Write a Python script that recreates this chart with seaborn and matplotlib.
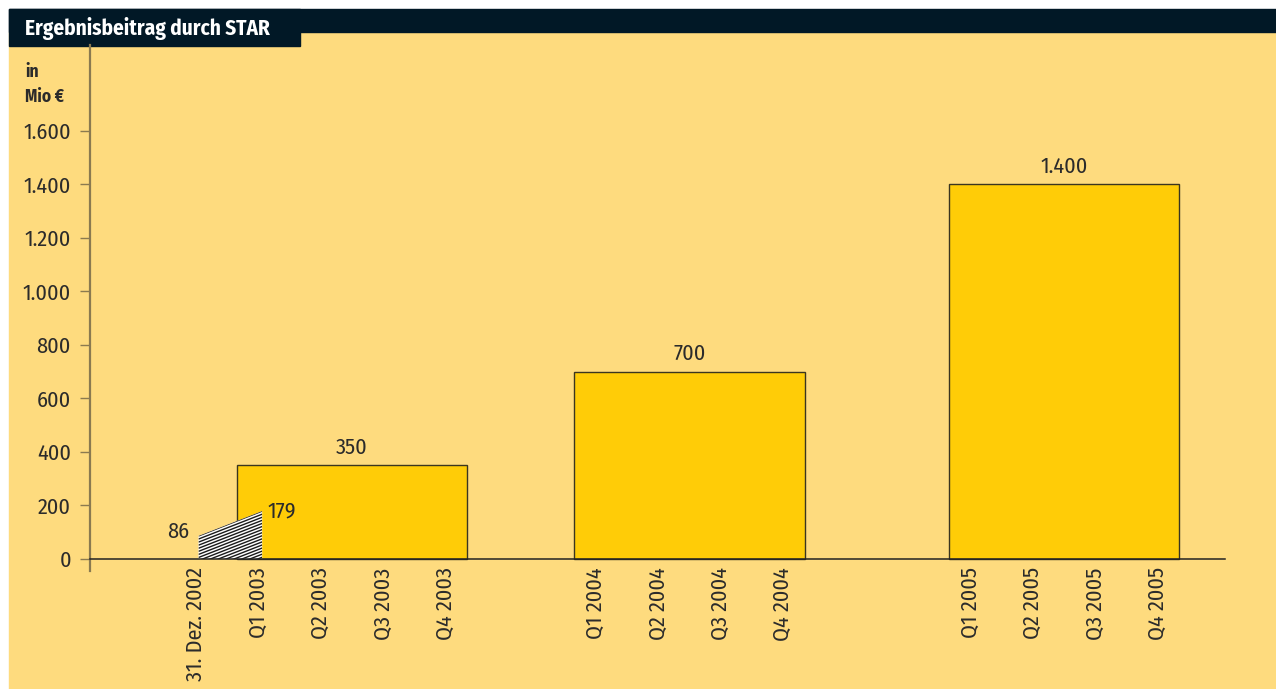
import numpy as np
import matplotlib
matplotlib.use("Agg")
import matplotlib.pyplot as plt
import seaborn as sns
from matplotlib.patches import Rectangle
from matplotlib import font_manager

# data
quarters = ["31. Dez. 2002",
            "Q1 2003", "Q2 2003", "Q3 2003", "Q4 2003",
            "Q1 2004", "Q2 2004", "Q3 2004", "Q4 2004",
            "Q1 2005", "Q2 2005", "Q3 2005", "Q4 2005"]
years = [2003, 2004, 2005]
year_values = [350, 700, 1400]
start_values = [86, 179]          # 31. Dez. 2002 -> Q1 2003
y_ticks = [0, 200, 400, 600, 800, 1000, 1200, 1400, 1600]
y_tick_labels = ["0", "200", "400", "600", "800", "1.000", "1.200", "1.400", "1.600"]
value_labels = ["350", "700", "1.400"]

# colours
BG = "#fedb7e"
NAVY = "#011826"
BAR = "#ffcc07"
TEXT = "#2b2b2b"
AXIS = "#8a7a50"

sns.set_theme(style="ticks")

# the original uses a condensed sans (Frutiger-like); take the first one installed
names = {f.name for f in font_manager.fontManager.ttflist}
wanted = ["Fira Sans Condensed", "Roboto Condensed", "Open Sans Condensed",
          "IBM Plex Sans Condensed", "Encode Sans Semi Condensed",
          "Sofia Sans Semi Condensed", "Saira Semi Condensed", "Liberation Sans"]
family = next((n for n in wanted if n in names), "DejaVu Sans")
plt.rcParams["font.family"] = [family, "DejaVu Sans"]

W, H = 1276, 689
fig = plt.figure(figsize=(W / 100, H / 100), dpi=100, facecolor="white")

# background panels (pixel coords -> figure fraction)
def px_rect(x0, y0, x1, y1, color):
    fig.patches.append(Rectangle((x0 / W, 1 - y1 / H), (x1 - x0) / W, (y1 - y0) / H,
                                 transform=fig.transFigure, color=color, zorder=-5))

px_rect(9, 32, W, H, BG)
px_rect(9, 9, W, 32, NAVY)
px_rect(9, 9, 300, 46, NAVY)

fig.text(25 / W, 1 - 28.5 / H, "Ergebnisbeitrag durch STAR", color="white",
         fontsize=15.3, fontweight="bold", ha="left", va="center")
fig.text(25 / W, 1 - 72 / H, "in", color=TEXT, fontsize=12.5, fontweight="bold",
         ha="left", va="center")
fig.text(25 / W, 1 - 97 / H, "Mio €", color=TEXT, fontsize=12.5, fontweight="bold",
         ha="left", va="center")

ax = fig.add_axes([90 / W, 1 - 571 / H, (1225 - 90) / W, (571 - 45) / H])
ax.set_facecolor("none")
ax.set_zorder(2)

# x positions of the quarter ticks (layout)
tick_pos = np.array([0, 1, 2, 3, 4, 6.4, 7.4, 8.4, 9.4, 12.4, 13.4, 14.4, 15.4])
bar_centers = [tick_pos[1:5].mean(), tick_pos[5:9].mean(), tick_pos[9:13].mean()]
bar_width = 3.69
native_unit = np.min(np.diff(bar_centers))

sns.barplot(x=bar_centers, y=year_values, native_scale=True, width=bar_width / native_unit,
            color=BAR, saturation=1, edgecolor="#3a3520", linewidth=1.0,
            errorbar=None, ax=ax, zorder=2)

for c, v, lab in zip(bar_centers, year_values, value_labels):
    ax.annotate(lab, (c, v), xytext=(0, 5), textcoords="offset points",
                ha="center", va="bottom", fontsize=16, color=TEXT)

# hatched start segment
xs = tick_pos[:2] + np.array([0.04, 0.06])
poly = ax.fill_between(xs, 0, start_values, facecolor="white", edgecolor="none",
                       linewidth=0, zorder=3)
step = 11.5
for k in range(0, 20):
    d = k * step
    ln, = ax.plot(xs, [start_values[0] - d, start_values[1] - d], color="#1a1a1a",
                  linewidth=1.0, zorder=4, solid_capstyle="butt")
    ln.set_clip_path(poly.get_paths()[0], ax.transData)

ax.annotate(str(start_values[0]), (xs[0], start_values[0]), xytext=(-7, 3),
            textcoords="offset points", ha="right", va="center", fontsize=16, color=TEXT)
ax.annotate(str(start_values[1]), (xs[1], start_values[1]), xytext=(4, 0),
            textcoords="offset points", ha="left", va="center", fontsize=16, color=TEXT)

# axes
ax.set_xlim(-1.697, 16.477)
ax.set_ylim(-44.9, 1921.5)
ax.set_yticks(y_ticks)
ax.set_yticklabels(y_tick_labels)
ax.set_xticks(tick_pos)
ax.set_xticklabels(quarters)
ax.tick_params(axis="x", length=0, pad=6, labelsize=16, labelcolor=TEXT, labelrotation=90)
ax.tick_params(axis="y", length=7.2, width=1.0, color=AXIS, pad=6.5,
               labelsize=16, labelcolor=TEXT)

for s in ["top", "right"]:
    ax.spines[s].set_visible(False)
ax.spines["left"].set_color(AXIS)
ax.spines["left"].set_linewidth(1.6)
ax.spines["bottom"].set_position(("data", 0))
ax.spines["bottom"].set_color("#222222")
ax.spines["bottom"].set_linewidth(1.1)
ax.spines["bottom"].set_zorder(5)
ax.set_xlabel("")
ax.set_ylabel("")

fig.savefig("out.png", dpi=100, facecolor="white")
